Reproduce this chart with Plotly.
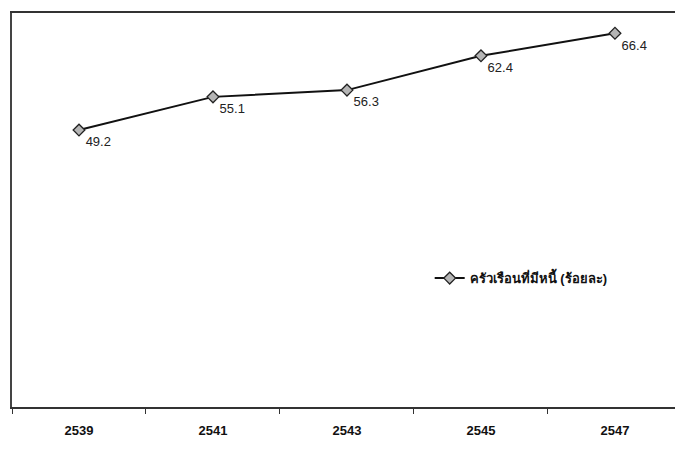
import plotly.graph_objects as go

years = ["2539", "2541", "2543", "2545", "2547"]
values = [49.2, 55.1, 56.3, 62.4, 66.4]
labels = ["49.2", "55.1", "56.3", "62.4", "66.4"]
series_name = "ครัวเรือนที่มีหนี้ (ร้อยละ)"

fig = go.Figure()
fig.add_trace(go.Scatter(
    x=years, y=values, mode="lines+markers+text", name=series_name,
    text=labels, textposition="bottom right",
    textfont=dict(family="Liberation Sans, Arial, sans-serif", size=13, color="#222"),
    line=dict(color="#111", width=2),
    marker=dict(symbol="diamond", size=9, color="#b5b5b5", line=dict(color="#222", width=1.3)),
))

fig.update_layout(
    width=675, height=449,
    margin=dict(l=12, r=0, t=13, b=42),
    paper_bgcolor="white", plot_bgcolor="white",
    showlegend=True,
    legend=dict(x=0.63, y=0.327, xanchor="left", yanchor="middle",
                font=dict(family="Liberation Sans, Arial, sans-serif", size=13, color="#111", weight="bold"),
                bgcolor="rgba(0,0,0,0)"),
    xaxis=dict(type="category", range=[-0.5, 4.448], showline=True, linecolor="#333", linewidth=2,
               mirror=True, ticks="outside", tickson="boundaries", ticklen=5, tickcolor="#333",
               showgrid=False, ticklabelstandoff=10,
               tickfont=dict(family="Liberation Sans, Arial, sans-serif", size=13, color="#111", weight="bold")),
    yaxis=dict(range=[0, 70], showline=True, linecolor="#444", linewidth=2, showgrid=False,
               showticklabels=False, ticks="", zeroline=False),
)

fig.write_html("out.html")
